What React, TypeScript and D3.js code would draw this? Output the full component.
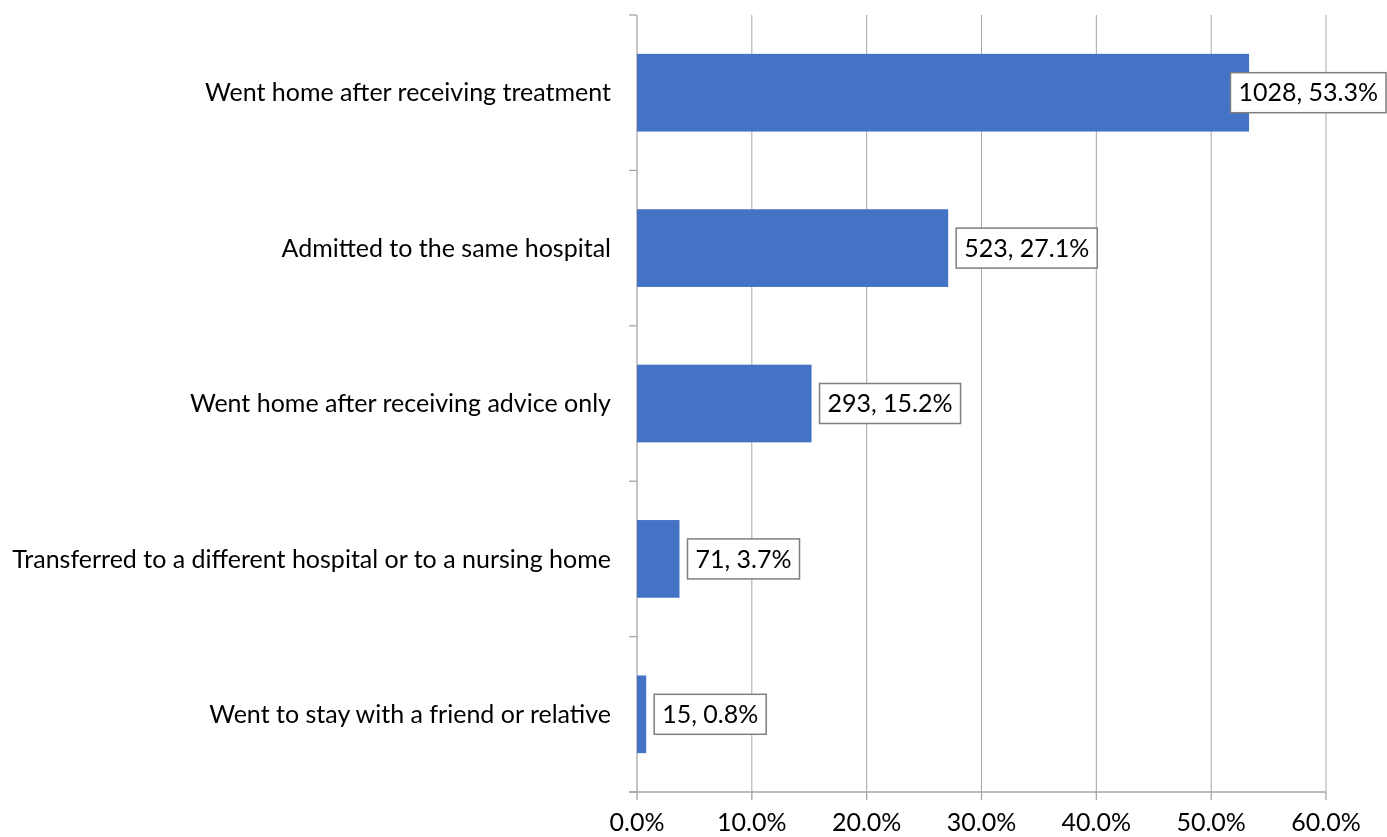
import React, { useRef, useEffect } from 'react';
import * as d3 from 'd3';

const categories = [
  'Went home after receiving treatment',
  'Admitted to the same hospital',
  'Went home after receiving advice only',
  'Transferred to a different hospital or to a nursing home',
  'Went to stay with a friend or relative',
];
const counts = [1028, 523, 293, 71, 15];
const percents = [53.3, 27.1, 15.2, 3.7, 0.8];
const xTicks = [0, 10, 20, 30, 40, 50, 60];

const W = 1387;
const H = 837;
const FONT = 'Lato, "Open Sans", sans-serif';
const FS = 25;

const App: React.FC = () => {
  const svgRef = useRef<SVGSVGElement>(null);

  useEffect(() => {
    if (!svgRef.current) return;
    const margin = { top: 15, right: 61, bottom: 45, left: 637 };

    const svg = d3.select(svgRef.current);
    svg.selectAll('*').remove();

    const x = d3.scaleLinear().domain([0, 60]).range([margin.left, W - margin.right]);
    const y = d3.scaleBand<string>()
      .domain(categories)
      .range([margin.top, H - margin.bottom])
      .paddingInner(0.5)
      .paddingOuter(0.25);

    const axisColor = '#a6a6a6';
    const step = y.step();
    const y0 = margin.top;
    const y1 = H - margin.bottom;

    // vertical grid lines
    svg.append('g')
      .selectAll('line')
      .data(xTicks.slice(1))
      .join('line')
      .attr('x1', d => x(d)).attr('x2', d => x(d))
      .attr('y1', y0).attr('y2', y1)
      .attr('stroke', axisColor).attr('stroke-width', 1);

    // y axis line and category tick marks
    svg.append('line')
      .attr('x1', x(0)).attr('x2', x(0)).attr('y1', y0).attr('y2', y1)
      .attr('stroke', axisColor).attr('stroke-width', 1.3);
    svg.append('g')
      .selectAll('line')
      .data(d3.range(categories.length + 1))
      .join('line')
      .attr('x1', x(0) - 8).attr('x2', x(0))
      .attr('y1', i => y0 + i * step).attr('y2', i => y0 + i * step)
      .attr('stroke', axisColor).attr('stroke-width', 1.3);

    // x axis line and ticks
    svg.append('line')
      .attr('x1', x(0) - 8).attr('x2', x(60)).attr('y1', y1).attr('y2', y1)
      .attr('stroke', axisColor).attr('stroke-width', 1.3);
    svg.append('g')
      .selectAll('line')
      .data(xTicks)
      .join('line')
      .attr('x1', d => x(d)).attr('x2', d => x(d))
      .attr('y1', y1).attr('y2', y1 + 8)
      .attr('stroke', axisColor).attr('stroke-width', 1.3);

    svg.append('g')
      .selectAll('text')
      .data(xTicks)
      .join('text')
      .attr('x', d => x(d))
      .attr('y', y1 + 39)
      .attr('text-anchor', 'middle')
      .attr('font-family', FONT)
      .attr('font-size', FS)
      .attr('fill', '#000')
      .text(d => `${d.toFixed(1)}%`);

    // category labels
    svg.append('g')
      .selectAll('text')
      .data(categories)
      .join('text')
      .attr('x', x(0) - 26)
      .attr('y', d => (y(d) as number) + y.bandwidth() / 2)
      .attr('dy', '0.35em')
      .attr('text-anchor', 'end')
      .attr('font-family', FONT)
      .attr('font-size', FS)
      .attr('fill', '#000')
      .text(d => d);

    // bars
    svg.append('g')
      .selectAll('rect')
      .data(categories)
      .join('rect')
      .attr('x', x(0))
      .attr('y', d => y(d) as number)
      .attr('width', (_, i) => x(percents[i]) - x(0))
      .attr('height', y.bandwidth())
      .attr('fill', '#4472C4');

    // data labels in boxes
    const lbl = svg.append('g');
    categories.forEach((c, i) => {
      const g = lbl.append('g');
      const t = g.append('text')
        .attr('font-family', FONT)
        .attr('font-size', FS)
        .attr('fill', '#000')
        .attr('dy', '0.35em')
        .text(`${counts[i]}, ${percents[i].toFixed(1)}%`);
      const tw = (t.node() as SVGTextElement).getComputedTextLength();
      const pad = 8;
      const bw = tw + pad * 2;
      const bh = 40;
      let bx = x(percents[i]) + 8;
      if (bx + bw > W - 1) bx = W - 1 - bw;
      const cy = (y(c) as number) + y.bandwidth() / 2;
      g.insert('rect', 'text')
        .attr('x', bx).attr('y', cy - bh / 2)
        .attr('width', bw).attr('height', bh)
        .attr('fill', '#fff')
        .attr('stroke', '#7f7f7f').attr('stroke-width', 1.5);
      t.attr('x', bx + pad).attr('y', cy);
    });
  }, []);

  return (
    <svg
      ref={svgRef}
      width={W}
      height={H}
      style={{ display: 'block', position: 'fixed', top: 0, left: 0 }}
    />
  );
};

export default App;
